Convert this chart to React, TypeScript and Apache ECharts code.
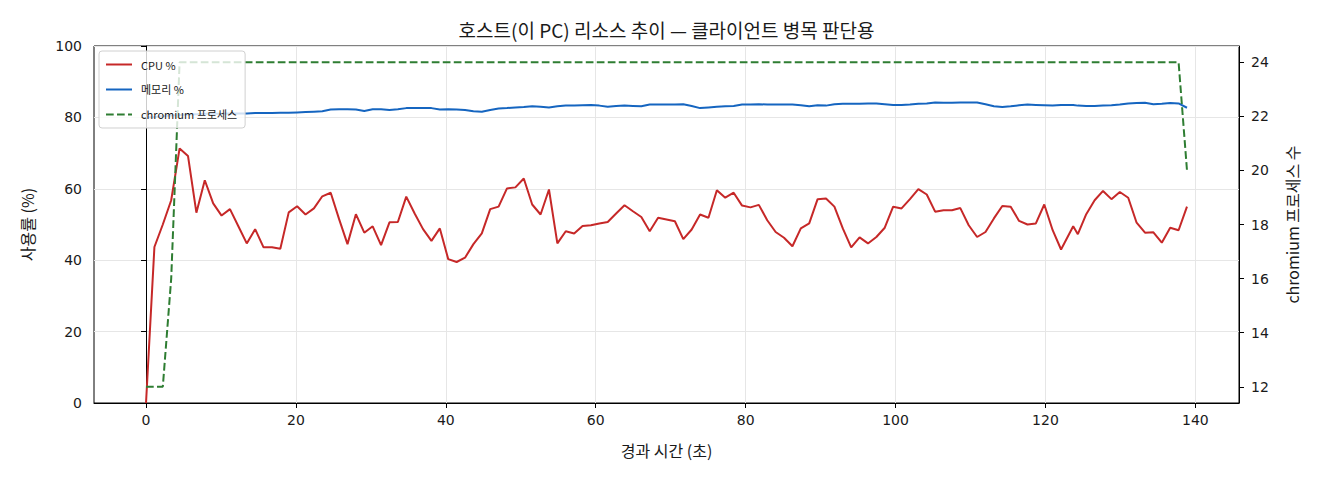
import React, { useEffect, useRef } from "react";
import * as echarts from "echarts";

const TITLE = "호스트(이 PC) 리소스 추이 — 클라이언트 병목 판단용";
const X_NAME = "경과 시간 (초)";
const Y_LEFT_NAME = "사용률 (%)";
const Y_RIGHT_NAME = "chromium 프로세스 수";
const SERIES_NAMES = ["CPU %", "메모리 %", "chromium 프로세스"];

const xTicks = [0, 20, 40, 60, 80, 100, 120, 140];
const rightTicks = [12, 14, 16, 18, 20, 22, 24];

const times = [
  0, 1.12, 2.24, 3.36, 4.48, 5.6, 6.72, 7.84, 8.96, 10.08,
  11.2, 12.32, 13.44, 14.56, 15.68, 16.8, 17.92, 19.04, 20.16, 21.28,
  22.4, 23.52, 24.64, 25.76, 26.88, 28, 29.12, 30.24, 31.36, 32.48,
  33.6, 34.72, 35.84, 36.96, 38.08, 39.2, 40.32, 41.44, 42.56, 43.68,
  44.8, 45.92, 47.04, 48.16, 49.28, 50.4, 51.52, 52.64, 53.76, 54.88,
  56, 57.12, 58.24, 59.36, 60.48, 61.6, 62.72, 63.84, 64.96, 66.08,
  67.2, 68.32, 69.44, 70.56, 71.68, 72.8, 73.92, 75.04, 76.16, 77.28,
  78.4, 79.52, 80.64, 81.76, 82.88, 84, 85.12, 86.24, 87.36, 88.48,
  89.6, 90.72, 91.84, 92.96, 94.08, 95.2, 96.32, 97.44, 98.56, 99.68,
  100.8, 101.92, 103.04, 104.16, 105.28, 106.4, 107.52, 108.64, 109.76, 110.88,
  112, 113.12, 114.24, 115.36, 116.48, 117.6, 118.72, 119.84, 120.96, 122.08,
  123.7, 124.32, 125.44, 126.56, 127.68, 128.8, 129.92, 131.04, 132.16, 133.28,
  134.4, 135.52, 136.64, 137.76, 138.88,
];

const cpu = [
  0, 43.7, 50.0, 56.8, 71.3, 69.2, 53.3, 62.4, 55.9, 52.5,
  54.3, 49.5, 44.7, 48.7, 43.6, 43.6, 43.2, 53.4, 55.1, 52.8,
  54.5, 57.9, 58.9, 51.5, 44.5, 52.9, 47.7, 49.5, 44.2, 50.6,
  50.7, 57.8, 53.1, 48.7, 45.4, 48.9, 40.3, 39.5, 40.7, 44.5,
  47.5, 54.3, 55.0, 60.1, 60.4, 62.9, 55.6, 52.8, 59.8, 44.7,
  48.1, 47.5, 49.6, 49.8, 50.3, 50.7, 53.1, 55.4, 53.7, 52.1,
  48.1, 51.9, 51.4, 50.9, 45.9, 48.6, 52.8, 51.9, 59.6, 57.5,
  58.9, 55.3, 54.8, 55.5, 51.2, 47.9, 46.3, 43.9, 48.9, 50.3,
  57.1, 57.3, 55.0, 48.9, 43.6, 46.4, 44.7, 46.5, 49.1, 55.0,
  54.5, 57.1, 59.9, 58.4, 53.6, 54.0, 54.0, 54.6, 49.8, 46.5,
  47.9, 51.7, 55.2, 55.0, 51.0, 50.0, 50.3, 55.6, 48.4, 43.0,
  49.5, 47.3, 52.9, 56.8, 59.4, 57.1, 59.1, 57.5, 50.5, 47.7,
  47.8, 44.9, 49.1, 48.4, 55.0,
];

const memory = [
  80.0, 80.1, 80.3, 80.5, 80.7, 80.8, 80.9, 81.0, 81.0, 81.0,
  81.1, 81.1, 81.1, 81.2, 81.2, 81.2, 81.3, 81.3, 81.4, 81.5,
  81.6, 81.7, 82.2, 82.3, 82.3, 82.2, 81.8, 82.3, 82.3, 82.1,
  82.3, 82.6, 82.6, 82.6, 82.6, 82.2, 82.3, 82.2, 82.1, 81.7,
  81.6, 82.1, 82.5, 82.6, 82.8, 82.9, 83.1, 83.0, 82.8, 83.1,
  83.3, 83.3, 83.4, 83.5, 83.3, 83.0, 83.2, 83.3, 83.2, 83.1,
  83.6, 83.6, 83.6, 83.6, 83.7, 83.2, 82.6, 82.8, 83.0, 83.1,
  83.2, 83.6, 83.6, 83.7, 83.6, 83.6, 83.6, 83.6, 83.4, 83.1,
  83.4, 83.3, 83.7, 83.8, 83.8, 83.8, 83.9, 83.9, 83.7, 83.5,
  83.5, 83.6, 83.8, 83.9, 84.2, 84.1, 84.1, 84.2, 84.2, 84.2,
  83.7, 83.1, 82.9, 83.1, 83.4, 83.6, 83.5, 83.4, 83.3, 83.5,
  83.5, 83.3, 83.2, 83.2, 83.3, 83.4, 83.6, 83.9, 84.0, 84.1,
  83.7, 83.8, 84.0, 83.9, 82.7,
];

const processes = [
  12, 12, 12, 16, 24, 24, 24, 24, 24, 24,
  24, 24, 24, 24, 24, 24, 24, 24, 24, 24,
  24, 24, 24, 24, 24, 24, 24, 24, 24, 24,
  24, 24, 24, 24, 24, 24, 24, 24, 24, 24,
  24, 24, 24, 24, 24, 24, 24, 24, 24, 24,
  24, 24, 24, 24, 24, 24, 24, 24, 24, 24,
  24, 24, 24, 24, 24, 24, 24, 24, 24, 24,
  24, 24, 24, 24, 24, 24, 24, 24, 24, 24,
  24, 24, 24, 24, 24, 24, 24, 24, 24, 24,
  24, 24, 24, 24, 24, 24, 24, 24, 24, 24,
  24, 24, 24, 24, 24, 24, 24, 24, 24, 24,
  24, 24, 24, 24, 24, 24, 24, 24, 24, 24,
  24, 24, 24, 24, 20,
];

const FONT = "'Noto Sans CJK KR', 'Noto Sans', sans-serif";
const TICK_FONT = "'DejaVu Sans', 'Noto Sans CJK KR', sans-serif";
const TXT = "#1a1a1a";

export default function App() {
  const ref = useRef<HTMLDivElement>(null);
  useEffect(() => {
    if (!ref.current) return;
    const chart = echarts.init(ref.current, null, { renderer: "svg" });
    const pairs = (vals: number[]) => times.map((t, i) => [t, vals[i]]);
    const axisLine = { show: true, lineStyle: { color: "#000", width: 1 } };
    const axisTickBase = { show: true, length: 5, inside: false, lineStyle: { color: "#000", width: 1 } };
    const labelBase = { color: TXT, fontSize: 14, fontFamily: TICK_FONT };
    const nameStyle = { color: TXT, fontSize: 16, fontFamily: FONT };
    const gridLine = { show: true, lineStyle: { color: "#e6e6e6", width: 1 } };

    chart.setOption({
      animation: false,
      backgroundColor: "#ffffff",
      textStyle: { fontFamily: FONT },
      grid: {
        left: 94,
        top: 46,
        width: 1145,
        height: 357,
        show: true,
        borderColor: "#000",
        borderWidth: 1,
        backgroundColor: "transparent",
        containLabel: false,
      },
      graphic: [
        {
          type: "text",
          x: 666.5,
          y: 29,
          style: {
            text: TITLE,
            align: "center",
            verticalAlign: "middle",
            fontSize: 19,
            fontFamily: FONT,
            fill: TXT,
          },
        },
      ],
      legend: {
        orient: "vertical",
        left: 99,
        top: 51,
        itemWidth: 26,
        itemHeight: 10,
        itemGap: 14,
        padding: [8, 8, 8, 6],
        backgroundColor: "rgba(255,255,255,0.8)",
        borderColor: "#d0d0d0",
        borderWidth: 1,
        borderRadius: 3,
        itemStyle: { opacity: 0 },
        textStyle: { fontSize: 11, color: TXT, fontFamily: FONT, padding: [0, 0, 0, 4] },
        data: SERIES_NAMES,
      },
      xAxis: {
        type: "value",
        min: -6.94,
        max: 145.82,
        name: X_NAME,
        nameLocation: "middle",
        nameGap: 39,
        nameTextStyle: nameStyle,
        axisLine,
        axisTick: { ...axisTickBase, customValues: xTicks },
        axisLabel: { ...labelBase, margin: 10, customValues: xTicks },
        splitLine: gridLine,
      },
      yAxis: [
        {
          type: "value",
          min: 0,
          max: 100,
          interval: 20,
          position: "left",
          name: Y_LEFT_NAME,
          nameLocation: "middle",
          nameRotate: 90,
          nameGap: 59,
          nameTextStyle: nameStyle,
          axisLine,
          axisTick: axisTickBase,
          axisLabel: { ...labelBase, margin: 12 },
          splitLine: gridLine,
        },
        {
          type: "value",
          min: 11.4,
          max: 24.6,
          position: "right",
          name: Y_RIGHT_NAME,
          nameLocation: "middle",
          nameRotate: 90,
          nameGap: 45,
          nameTextStyle: nameStyle,
          axisLine,
          axisTick: { ...axisTickBase, customValues: rightTicks },
          axisLabel: { ...labelBase, margin: 12, customValues: rightTicks },
          splitLine: { show: false },
        },
      ],
      series: [
        {
          name: SERIES_NAMES[0],
          type: "line",
          yAxisIndex: 0,
          data: pairs(cpu),
          symbol: "none",
          lineStyle: { color: "#c62828", width: 2 },
          itemStyle: { color: "#c62828", opacity: 0 },
          z: 3,
        },
        {
          name: SERIES_NAMES[1],
          type: "line",
          yAxisIndex: 0,
          data: pairs(memory),
          symbol: "none",
          lineStyle: { color: "#1565c0", width: 2 },
          itemStyle: { color: "#1565c0", opacity: 0 },
          z: 3,
        },
        {
          name: SERIES_NAMES[2],
          type: "line",
          yAxisIndex: 1,
          data: pairs(processes),
          symbol: "none",
          lineStyle: { color: "#2e7d32", width: 2, type: [7.7, 3.3] },
          itemStyle: { color: "#2e7d32", opacity: 0 },
          z: 3,
        },
      ],
    });
    return () => chart.dispose();
  }, []);
  return (
    <div
      ref={ref}
      style={{ position: "fixed", left: 0, top: 0, width: 1320, height: 480, background: "#fff" }}
    />
  );
}
